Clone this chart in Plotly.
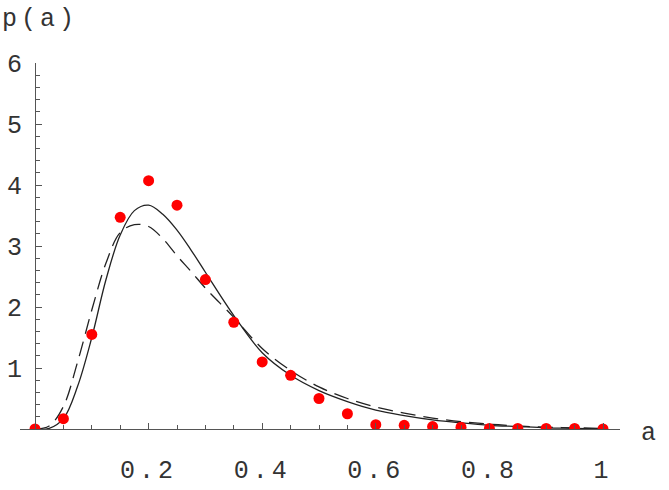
import plotly.graph_objects as go

# data points (red dots)
pts_a = [0.0, 0.05, 0.1, 0.15, 0.2, 0.25, 0.3, 0.35, 0.4, 0.45, 0.5,
         0.55, 0.6, 0.65, 0.7, 0.75, 0.8, 0.85, 0.9, 0.95, 1.0]
pts_p = [0.0, 0.17, 1.55, 3.47, 4.07, 3.67, 2.45, 1.75, 1.10, 0.88, 0.50,
         0.25, 0.07, 0.06, 0.04, 0.03, 0.01, 0.01, 0.01, 0.01, 0.0]

# curves
curve_a = [0.0, 0.025, 0.05, 0.075, 0.1, 0.125, 0.15, 0.175, 0.2, 0.225,
           0.25, 0.275, 0.3, 0.35, 0.4, 0.45, 0.5, 0.55, 0.6, 0.65, 0.7,
           0.75, 0.8, 0.85, 0.9, 0.95, 1.0]
solid_p = [0.0, 0.01, 0.17, 0.70, 1.50, 2.45, 3.18, 3.58, 3.67, 3.52,
           3.26, 2.93, 2.57, 1.86, 1.25, 0.88, 0.63, 0.45, 0.31, 0.22, 0.15,
           0.10, 0.06, 0.04, 0.02, 0.01, 0.0]
dash_p = [0.0, 0.05, 0.37, 1.10, 1.95, 2.72, 3.22, 3.35, 3.32, 3.12,
          2.84, 2.58, 2.31, 1.83, 1.32, 0.96, 0.69, 0.50, 0.36, 0.26, 0.18,
          0.12, 0.08, 0.05, 0.03, 0.02, 0.01]

x_ticks = [0.2, 0.4, 0.6, 0.8, 1.0]
x_ticktext = ["0.2", "0.4", "0.6", "0.8", "1"]
y_ticks = [1, 2, 3, 4, 5, 6]
y_ticktext = ["1", "2", "3", "4", "5", "6"]

FONT = "Liberation Mono"
LS = "letter-spacing:4px"
TXT = "#333"

fig = go.Figure()
fig.add_trace(go.Scatter(x=curve_a, y=dash_p, mode="lines", line_shape="spline",
                         line=dict(color="#222", width=1.3, dash="15px,8px"),
                         hoverinfo="skip"))
fig.add_trace(go.Scatter(x=curve_a, y=solid_p, mode="lines", line_shape="spline",
                         line=dict(color="#222", width=1.3), hoverinfo="skip"))
fig.add_trace(go.Scatter(x=pts_a, y=pts_p, mode="markers",
                         marker=dict(color="#ff0000", size=11), cliponaxis=True))

L, R, T, B = 20, 49, 63, 61
W, H = 669, 490
pw = W - L - R
ph = H - T - B
x0px = 35
scale = 568.0
xmin = -(x0px - L) / scale
xmax = xmin + pw / scale

fig.update_layout(
    width=W, height=H,
    margin=dict(l=L, r=R, t=T, b=B, autoexpand=False),
    plot_bgcolor="white", paper_bgcolor="white",
    showlegend=False,
    font=dict(family=FONT, size=25, color=TXT),
    xaxis=dict(range=[xmin, xmax], showgrid=False, zeroline=False, automargin=False,
               showline=True, linecolor="#555", linewidth=1,
               tickmode="array", tickvals=x_ticks,
               ticktext=[f'<span style="{LS}">{t}</span>' for t in x_ticktext],
               ticks="inside", ticklen=6, tickcolor="#555",
               minor=dict(dtick=0.05, tick0=0, ticks="inside", ticklen=4, tickcolor="#555"),
               ticklabelstandoff=18),
    yaxis=dict(range=[0, 6], showgrid=False, zeroline=False, automargin=False,
               anchor="free", position=(x0px - L) / pw,
               showline=True, linecolor="#555", linewidth=1,
               tickmode="array", tickvals=y_ticks, ticktext=y_ticktext,
               ticks="inside", ticklen=6, tickcolor="#555",
               minor=dict(dtick=0.2, tick0=0, ticks="inside", ticklen=4, tickcolor="#555"),
               ticklabelstandoff=8),
    annotations=[
        dict(text=f'<span style="{LS}">p(a)</span>', xref="paper", yref="paper",
             x=-L / pw, y=1 + 43 / ph, xanchor="left", yanchor="middle",
             showarrow=False, font=dict(family=FONT, size=25, color=TXT)),
        dict(text="a", xref="paper", yref="paper",
             x=(648 - L) / pw, y=(H - B - 433) / ph,
             xanchor="center", yanchor="middle",
             showarrow=False, font=dict(family=FONT, size=25, color=TXT)),
    ],
)

fig.write_html("out.html")
